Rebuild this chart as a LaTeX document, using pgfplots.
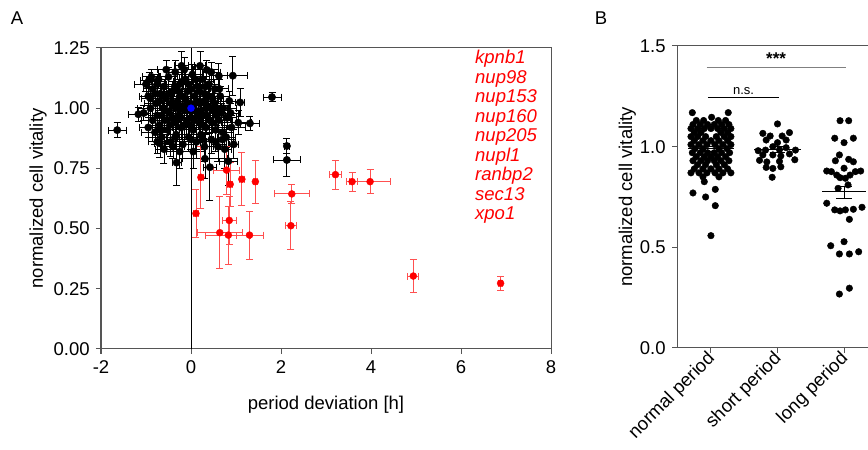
\documentclass[border=0pt]{standalone}
\usepackage{fontspec}
\setmainfont{Liberation Sans}
\usepackage{pgfplots}
\pgfplotsset{compat=1.18}
\definecolor{axgray}{HTML}{555555}
\definecolor{errred}{HTML}{FF5050}
\begin{document}
\fontsize{18.5}{22}\selectfont
\begin{tikzpicture}
\path[use as bounding box] (0,0) rectangle (868pt,450pt);
\node[font=\fontsize{18.5}{22}\selectfont] at (17pt,432pt) {A};
\node[font=\fontsize{18.5}{22}\selectfont] at (601pt,432pt) {B};
% ---------------- Panel A ----------------
\begin{axis}[
  at={(101pt,101pt)}, anchor=south west,
  scale only axis, width=450pt, height=301pt,
  xmin=-2, xmax=8, ymin=0, ymax=1.25,
  xtick={-2,0,2,4,6,8}, ytick={0,0.25,0.5,0.75,1,1.25},
  yticklabel style={/pgf/number format/.cd, fixed, fixed zerofill, precision=2},
  /pgf/number format/assume math mode=true,
  tick label style={font=\fontsize{18.5}{22}\selectfont},
  label style={font=\fontsize{18.5}{22}\selectfont},
  xtick pos=left, ytick pos=left, tick align=outside,
  major tick length=5pt,
  axis line style={axgray, line width=1pt},
  every tick/.style={axgray, line width=1pt},
  xlabel={period deviation [h]},
  ylabel={normalized cell vitality},
  xlabel style={at={(axis description cs:0.5,-0.185)}, anchor=center},
  ylabel style={at={(axis description cs:-0.14,0.5)}, anchor=center},
  clip=false,
]
\addplot[black, line width=0.9pt] coordinates {(0,0) (0,1.25)};
% black genes
\addplot[only marks, mark=*, mark size=3.7pt, black,
  error bars/.cd, x dir=both, x explicit, y dir=both, y explicit,
  error bar style={black, line width=0.9pt},
  error mark options={rotate=90, black, mark size=3.5pt, line width=0.9pt}]
table[x=x, y=y, x error=ex, y error=ey, row sep=\\]{
x y ex ey\\
-1.64 0.909 0.20 0.03\\
-1.17 0.975 0.22 0.03\\
-0.93 1.117 0.20 0.03\\
-0.21 1.176 0.15 0.06\\
0.20 1.176 0.12 0.06\\
0.35 1.159 0.25 0.04\\
0.62 1.134 0.20 0.05\\
0.93 1.135 0.33 0.08\\
1.80 1.046 0.20 0.02\\
1.09 1.024 0.10 0.06\\
1.31 0.937 0.22 0.03\\
1.05 0.940 0.30 0.05\\
0.78 0.880 0.20 0.05\\
2.13 0.843 0.05 0.03\\
2.13 0.785 0.30 0.07\\
-0.32 0.774 0.10 0.095\\
-0.69 0.854 0.12 0.06\\
0.31 0.790 0.50 0.08\\
0.42 0.755 0.15 0.14\\
0.83 0.780 0.20 0.10\\
0.60 0.84 0.30 0.06\\
0.75 0.83 0.15 0.08\\
0.95 0.85 0.10 0.06\\
-1.0 1.10 0.25 0.03\\
-0.95 1.05 0.2 0.04\\
-0.9 1.00 0.3 0.04\\
-0.85 0.95 0.25 0.05\\
-0.85 1.08 0.2 0.03\\
-0.80 0.90 0.3 0.05\\
-0.78 1.02 0.25 0.04\\
-0.75 0.97 0.2 0.05\\
-0.72 1.12 0.15 0.04\\
-0.70 0.93 0.25 0.04\\
-0.68 1.06 0.3 0.05\\
-0.65 0.88 0.2 0.05\\
-0.62 1.00 0.25 0.04\\
-0.60 1.09 0.2 0.03\\
-0.58 0.95 0.3 0.05\\
-0.55 1.04 0.25 0.04\\
-0.52 0.91 0.2 0.06\\
-0.50 1.13 0.2 0.04\\
-0.48 0.98 0.3 0.05\\
-0.45 0.86 0.25 0.06\\
-0.42 1.07 0.2 0.04\\
-0.40 1.01 0.3 0.05\\
-0.38 0.94 0.25 0.05\\
-0.35 1.15 0.15 0.05\\
-0.33 0.89 0.3 0.06\\
-0.30 1.03 0.2 0.04\\
-0.28 0.97 0.25 0.05\\
-0.25 1.10 0.3 0.04\\
-0.22 0.92 0.2 0.05\\
-0.20 1.05 0.25 0.05\\
-0.18 0.85 0.3 0.06\\
-0.15 0.99 0.2 0.04\\
-0.12 1.12 0.25 0.05\\
-0.10 0.94 0.3 0.05\\
-0.08 1.07 0.2 0.04\\
-0.05 0.88 0.25 0.06\\
-0.02 1.02 0.3 0.05\\
0.00 0.96 0.2 0.05\\
0.03 1.14 0.25 0.04\\
0.05 0.91 0.3 0.05\\
0.08 1.05 0.2 0.05\\
0.10 0.99 0.25 0.04\\
0.12 0.86 0.3 0.07\\
0.15 1.09 0.2 0.04\\
0.18 0.94 0.25 0.05\\
0.20 1.02 0.3 0.05\\
0.22 0.89 0.2 0.06\\
0.25 1.12 0.25 0.04\\
0.28 0.97 0.3 0.05\\
0.30 1.06 0.2 0.04\\
0.33 0.92 0.25 0.06\\
0.36 1.01 0.3 0.05\\
0.40 1.10 0.2 0.05\\
0.42 0.95 0.25 0.05\\
0.45 0.87 0.3 0.06\\
0.48 1.04 0.2 0.04\\
0.50 0.99 0.25 0.05\\
0.53 1.08 0.3 0.04\\
0.55 0.91 0.2 0.06\\
0.58 1.00 0.25 0.05\\
0.62 0.95 0.3 0.05\\
0.65 1.05 0.2 0.04\\
0.70 0.90 0.25 0.05\\
0.72 1.00 0.3 0.05\\
0.80 0.96 0.2 0.05\\
0.85 1.03 0.25 0.04\\
0.90 0.92 0.3 0.05\\
-0.60 0.83 0.2 0.06\\
-0.40 0.84 0.25 0.05\\
-0.95 0.92 0.2 0.04\\
-1.05 0.98 0.15 0.03\\
-0.75 0.86 0.2 0.05\\
-0.25 0.82 0.3 0.07\\
0.05 0.82 0.25 0.07\\
0.30 0.84 0.2 0.06\\
-0.88 1.13 0.2 0.03\\
-0.15 1.16 0.2 0.05\\
0.45 1.15 0.2 0.04\\
-0.55 1.16 0.2 0.04\\
-0.70 1.03 0.2 0.04\\
-0.65 0.97 0.2 0.04\\
-0.60 1.05 0.2 0.04\\
-0.55 0.99 0.2 0.04\\
-0.50 1.06 0.2 0.04\\
-0.47 0.93 0.2 0.04\\
-0.44 1.02 0.2 0.04\\
-0.40 0.96 0.2 0.04\\
-0.36 1.09 0.2 0.04\\
-0.34 1.00 0.2 0.04\\
-0.31 0.95 0.2 0.04\\
-0.28 1.07 0.2 0.04\\
-0.26 1.00 0.2 0.04\\
-0.23 0.96 0.2 0.04\\
-0.20 1.11 0.2 0.04\\
-0.18 1.01 0.2 0.04\\
-0.14 0.93 0.2 0.04\\
-0.12 1.04 0.2 0.04\\
-0.09 0.99 0.2 0.04\\
-0.06 1.10 0.2 0.04\\
-0.03 0.93 0.2 0.04\\
0.01 1.08 0.2 0.04\\
0.04 0.99 0.2 0.04\\
0.07 0.95 0.2 0.04\\
0.10 1.12 0.2 0.04\\
0.13 1.03 0.2 0.04\\
0.16 0.97 0.2 0.04\\
0.19 1.07 0.2 0.04\\
0.23 0.99 0.2 0.04\\
0.26 0.93 0.2 0.04\\
0.29 1.03 0.2 0.04\\
0.32 1.09 0.2 0.04\\
0.35 0.97 0.2 0.04\\
0.38 1.05 0.2 0.04\\
0.43 1.00 0.2 0.04\\
0.47 0.94 0.2 0.04\\
0.52 1.02 0.2 0.04\\
0.57 0.97 0.2 0.04\\
0.63 1.08 0.2 0.04\\
0.68 0.98 0.2 0.04\\
-0.80 1.06 0.2 0.04\\
-0.75 1.10 0.2 0.04\\
-0.90 1.04 0.2 0.04\\
-0.65 0.91 0.2 0.04\\
0.00 0.87 0.2 0.04\\
-0.35 0.88 0.2 0.04\\
0.25 0.87 0.2 0.04\\
0.55 0.86 0.2 0.04\\
0.70 0.87 0.2 0.04\\
0.88 0.98 0.2 0.04\\
};
% red genes
\addplot[only marks, mark=*, mark size=3.5pt, red,
  error bars/.cd, x dir=both, x explicit, y dir=both, y explicit,
  error bar style={errred, line width=0.9pt},
  error mark options={rotate=90, errred, mark size=3.5pt, line width=0.9pt}]
table[x=x, y=y, x error=ex, y error=ey, row sep=\\]{
x y ex ey\\
0.22 0.713 0.05 0.13\\
0.11 0.563 0.05 0.10\\
0.79 0.743 0.28 0.10\\
0.87 0.684 0.05 0.09\\
1.13 0.705 0.05 0.11\\
1.43 0.695 0.05 0.09\\
0.85 0.534 0.15 0.10\\
0.64 0.483 0.50 0.15\\
0.83 0.473 0.50 0.12\\
1.30 0.473 0.30 0.10\\
2.24 0.644 0.39 0.04\\
2.22 0.512 0.12 0.10\\
3.21 0.724 0.13 0.06\\
3.58 0.695 0.12 0.04\\
3.98 0.695 0.45 0.05\\
4.94 0.303 0.12 0.07\\
6.88 0.273 0.05 0.03\\
};
\addplot[only marks, mark=*, mark size=3.5pt, blue] coordinates {(0,1.0)};
\end{axis}
\begin{scope}[font=\fontsize{18.5}{22}\selectfont\itshape, text=red]
\node[anchor=base west, inner sep=0] at (475pt,386pt) {kpnb1};
\node[anchor=base west, inner sep=0] at (475pt,366.5pt) {nup98};
\node[anchor=base west, inner sep=0] at (475pt,347pt) {nup153};
\node[anchor=base west, inner sep=0] at (475pt,327.5pt) {nup160};
\node[anchor=base west, inner sep=0] at (475pt,308pt) {nup205};
\node[anchor=base west, inner sep=0] at (475pt,288.5pt) {nupl1};
\node[anchor=base west, inner sep=0] at (475pt,269pt) {ranbp2};
\node[anchor=base west, inner sep=0] at (475pt,249.5pt) {sec13};
\node[anchor=base west, inner sep=0] at (475pt,230pt) {xpo1};
\end{scope}
% ---------------- Panel B ----------------
\begin{axis}[
  at={(677pt,102pt)}, anchor=south west,
  scale only axis, width=191pt, height=302pt,
  xmin=-0.51, xmax=2.36, ymin=0, ymax=1.5,
  axis x line=box, axis y line=left,
  axis line style={-, axgray, line width=1pt},
  x axis line style={-}, y axis line style={-},
  xtick={0,1,2}, xticklabels={normal period, short period, long period},
  ytick={0,0.5,1,1.5},
  yticklabel style={/pgf/number format/.cd, fixed, fixed zerofill, precision=1},
  /pgf/number format/assume math mode=true,
  tick label style={font=\fontsize{18.5}{22}\selectfont},
  xticklabel style={rotate=45, anchor=east, xshift=5pt, yshift=-3pt},
  label style={font=\fontsize{18.5}{22}\selectfont},
  xtick pos=left, ytick pos=left, tick align=outside,
  major tick length=5pt,
  every tick/.style={axgray, line width=1pt},
  ylabel={normalized cell vitality},
  ylabel style={at={(axis description cs:-0.26,0.5)}, anchor=center},
  clip=false,
]
\addplot[only marks, mark=*, mark size=3.3pt, black] table[row sep=\\]{
x y\\
-0.28 1.169\\ 0.26 1.169\\ 0.01 1.146\\
-0.22 1.13\\ -0.11 1.13\\ 0.11 1.13\\ 0.22 1.13\\
-0.27 1.11\\ -0.16 1.11\\ -0.05 1.11\\ 0.05 1.11\\ 0.16 1.11\\ 0.27 1.11\\
-0.30 1.09\\ -0.20 1.09\\ -0.10 1.09\\ 0.0 1.09\\ 0.10 1.09\\ 0.20 1.09\\ 0.30 1.09\\
-0.25 1.07\\ -0.15 1.07\\ 0.15 1.07\\ 0.25 1.07\\
-0.30 1.05\\ -0.20 1.05\\ -0.08 1.05\\ 0.08 1.05\\ 0.20 1.05\\ 0.30 1.05\\
-0.25 1.03\\ -0.12 1.03\\ 0.0 1.03\\ 0.12 1.03\\ 0.25 1.03\\
-0.30 1.01\\ -0.18 1.01\\ -0.06 1.01\\ 0.06 1.01\\ 0.18 1.01\\ 0.30 1.01\\
-0.24 0.99\\ -0.12 0.99\\ 0.12 0.99\\ 0.24 0.99\\
-0.28 0.97\\ -0.16 0.97\\ -0.05 0.97\\ 0.05 0.97\\ 0.16 0.97\\ 0.28 0.97\\
-0.22 0.95\\ -0.10 0.95\\ 0.0 0.95\\ 0.10 0.95\\ 0.22 0.95\\
-0.27 0.93\\ -0.15 0.93\\ -0.05 0.93\\ 0.05 0.93\\ 0.15 0.93\\ 0.27 0.93\\
-0.20 0.91\\ -0.08 0.91\\ 0.08 0.91\\ 0.20 0.91\\
-0.25 0.89\\ -0.12 0.89\\ 0.0 0.89\\ 0.12 0.89\\ 0.25 0.89\\
-0.30 0.87\\ -0.18 0.87\\ -0.06 0.87\\ 0.06 0.87\\ 0.18 0.87\\ 0.30 0.87\\
-0.12 0.85\\ 0.12 0.85\\
-0.10 0.826\\ 0.065 0.788\\ -0.27 0.77\\ -0.08 0.75\\ 0.065 0.707\\ 0.0 0.558\\
1.00 1.113\\ 0.78 1.066\\ 0.89 1.053\\ 1.07 1.053\\ 1.18 1.07\\
0.83 1.033\\ 1.00 1.02\\ 1.13 1.033\\
0.71 0.98\\ 0.82 0.983\\ 0.93 1.0\\ 1.03 0.985\\ 1.13 0.995\\ 1.27 0.983\\
0.78 0.959\\ 0.93 0.959\\ 1.05 0.954\\ 1.18 0.964\\
0.73 0.932\\ 0.84 0.924\\ 1.03 0.927\\ 1.26 0.935\\
0.83 0.897\\ 0.93 0.892\\ 1.05 0.9\\ 0.92 0.848\\
1.94 1.129\\ 2.07 1.129\\
1.86 1.042\\ 2.00 1.020\\ 2.14 1.042\\
1.93 0.959\\ 1.87 0.93\\ 2.07 0.937\\ 2.14 0.925\\ 2.00 0.893\\
1.74 0.879\\ 1.81 0.876\\ 1.89 0.859\\ 1.94 0.846\\ 2.02 0.843\\ 2.09 0.859\\ 2.17 0.876\\ 2.25 0.879\\
1.91 0.793\\ 2.06 0.810\\
1.74 0.719\\ 1.86 0.686\\ 1.94 0.681\\ 2.02 0.686\\ 2.14 0.689\\ 2.27 0.699\\
2.08 0.639\\
1.80 0.508\\ 2.00 0.528\\
1.93 0.467\\ 2.08 0.467\\ 2.22 0.478\\
1.93 0.268\\ 2.08 0.297\\
};
% means and SEM
\addplot[black, line width=1pt] coordinates {(-0.34,0.99) (0.34,0.99)};
\addplot[black, line width=1pt] coordinates {(-0.12,1.002) (0.12,1.002)};
\addplot[black, line width=1pt] coordinates {(-0.12,0.978) (0.12,0.978)};
\addplot[black, line width=1pt] coordinates {(0.65,0.985) (1.35,0.985)};
\addplot[black, line width=1pt] coordinates {(0.88,1.0) (1.12,1.0)};
\addplot[black, line width=1pt] coordinates {(0.88,0.97) (1.12,0.97)};
\addplot[black, line width=1pt] coordinates {(1,0.97) (1,1.0)};
\addplot[black, line width=1pt] coordinates {(1.67,0.775) (2.33,0.775)};
\addplot[black, line width=1pt] coordinates {(1.88,0.80) (2.12,0.80)};
\addplot[black, line width=1pt] coordinates {(1.88,0.745) (2.12,0.745)};
\addplot[black, line width=1pt] coordinates {(2,0.745) (2,0.80)};
% significance
\addplot[gray, line width=1pt] coordinates {(-0.065,1.394) (2.03,1.394)};
\addplot[black, line width=0.8pt] coordinates {(-0.045,1.247) (1.02,1.247)};
\node[anchor=south, font=\fontsize{17}{20}\selectfont\bfseries, inner sep=1pt] at (axis cs:0.98,1.40) {***};
\node[anchor=south, font=\fontsize{13}{15}\selectfont, inner sep=2pt] at (axis cs:0.49,1.25) {n.s.};
\end{axis}
\end{tikzpicture}
\end{document}
